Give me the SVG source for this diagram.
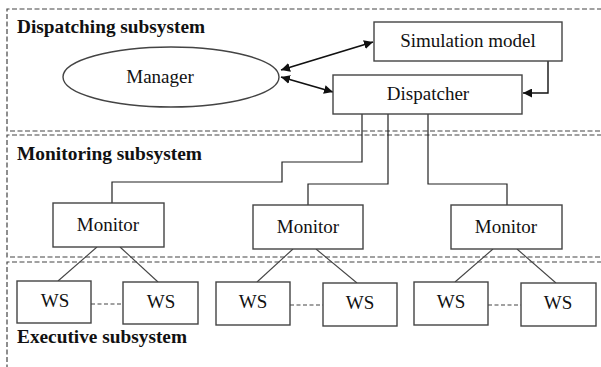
<svg xmlns="http://www.w3.org/2000/svg" width="601" height="367" viewBox="0 0 601 367">
  <defs>
    <marker id="ah" viewBox="0 0 10 10" refX="10" refY="5" markerWidth="9" markerHeight="9" markerUnits="userSpaceOnUse" orient="auto-start-reverse">
      <path d="M0,0 L10,5 L0,10 z" fill="#111"/>
    </marker>
    <style>
      .frame { fill: none; stroke: #444; stroke-width: 1.2; stroke-dasharray: 5 2.5; }
      .box { fill: #fff; stroke: #444; stroke-width: 1.4; }
      .lbl { font-family: "Liberation Serif", "Times New Roman", serif; font-size: 19px; fill: #111; text-anchor: middle; }
      .ttl { font-family: "Liberation Serif", "Times New Roman", serif; font-size: 19px; font-weight: bold; fill: #111; }
      .wire { fill: none; stroke: #222; stroke-width: 1.2; }
      .link { fill: none; stroke: #444; stroke-width: 1.1; }
      .peer { fill: none; stroke: #444; stroke-width: 1.2; stroke-dasharray: 4 2.5; }
      .arrow { fill: none; stroke: #111; stroke-width: 1.8; }
    </style>
  </defs>
  <rect width="601" height="367" fill="#fff"/>

  <!-- subsystem frames (open to the right/bottom) -->
  <g id="frames">
    <path class="frame" d="M602,9 H7 V131 H602"/>
    <path class="frame" d="M602,135 H7 V257 H602"/>
    <path class="frame" d="M602,262 H7 V368"/>
  </g>

  <g id="titles">
    <text class="ttl" x="17" y="33" textLength="188" lengthAdjust="spacingAndGlyphs">Dispatching subsystem</text>
    <text class="ttl" x="17" y="160" textLength="185" lengthAdjust="spacingAndGlyphs">Monitoring subsystem</text>
    <text class="ttl" x="17" y="343" textLength="170" lengthAdjust="spacingAndGlyphs">Executive subsystem</text>
  </g>

  <!-- connectors -->
  <g id="connectors">
    <line class="arrow" x1="281" y1="70" x2="373" y2="42" marker-start="url(#ah)" marker-end="url(#ah)"/>
    <line class="arrow" x1="281" y1="77" x2="333" y2="92" marker-start="url(#ah)" marker-end="url(#ah)"/>
    <path class="arrow" d="M548,61 V93 H523" marker-end="url(#ah)" style="stroke-width:1.4"/>
    <path class="wire" d="M362,114 V162 H282 V182 H112 V203"/>
    <path class="wire" d="M388,114 V184 H308 V205"/>
    <path class="wire" d="M428,114 V184 H507 V205"/>
    <line class="link" x1="97" y1="247" x2="58" y2="281"/>
    <line class="link" x1="120" y1="247" x2="158" y2="282"/>
    <line class="link" x1="293" y1="249" x2="257" y2="282"/>
    <line class="link" x1="316" y1="249" x2="357" y2="283"/>
    <line class="link" x1="493" y1="249" x2="455" y2="282"/>
    <line class="link" x1="517" y1="249" x2="556" y2="283"/>
    <line class="peer" x1="91" y1="304" x2="123" y2="304"/>
    <line class="peer" x1="290" y1="305" x2="323" y2="305"/>
    <line class="peer" x1="488" y1="305" x2="521" y2="305"/>
  </g>

  <g id="manager">
    <ellipse class="box" cx="171" cy="77" rx="108" ry="30"/>
    <text class="lbl" x="160" y="83">Manager</text>
  </g>
  <g id="simulation-model">
    <rect class="box" x="374" y="22" width="188" height="39"/>
    <text class="lbl" x="468" y="47">Simulation model</text>
  </g>
  <g id="dispatcher">
    <rect class="box" x="333" y="75" width="189" height="39"/>
    <text class="lbl" x="428" y="100">Dispatcher</text>
  </g>

  <g id="monitor-1">
    <rect class="box" x="53" y="203" width="111" height="44"/>
    <text class="lbl" x="108" y="231">Monitor</text>
  </g>
  <g id="monitor-2">
    <rect class="box" x="253" y="205" width="110" height="44"/>
    <text class="lbl" x="308" y="233">Monitor</text>
  </g>
  <g id="monitor-3">
    <rect class="box" x="451" y="205" width="111" height="44"/>
    <text class="lbl" x="506" y="233">Monitor</text>
  </g>

  <g id="ws-1">
    <rect class="box" x="17" y="281" width="74" height="42"/>
    <text class="lbl" x="55" y="307">WS</text>
  </g>
  <g id="ws-2">
    <rect class="box" x="123" y="282" width="75" height="42"/>
    <text class="lbl" x="161" y="308">WS</text>
  </g>
  <g id="ws-3">
    <rect class="box" x="216" y="282" width="74" height="43"/>
    <text class="lbl" x="253" y="308">WS</text>
  </g>
  <g id="ws-4">
    <rect class="box" x="323" y="283" width="74" height="43"/>
    <text class="lbl" x="360" y="309">WS</text>
  </g>
  <g id="ws-5">
    <rect class="box" x="414" y="282" width="74" height="43"/>
    <text class="lbl" x="451" y="308">WS</text>
  </g>
  <g id="ws-6">
    <rect class="box" x="521" y="283" width="75" height="43"/>
    <text class="lbl" x="558" y="309">WS</text>
  </g>
</svg>
